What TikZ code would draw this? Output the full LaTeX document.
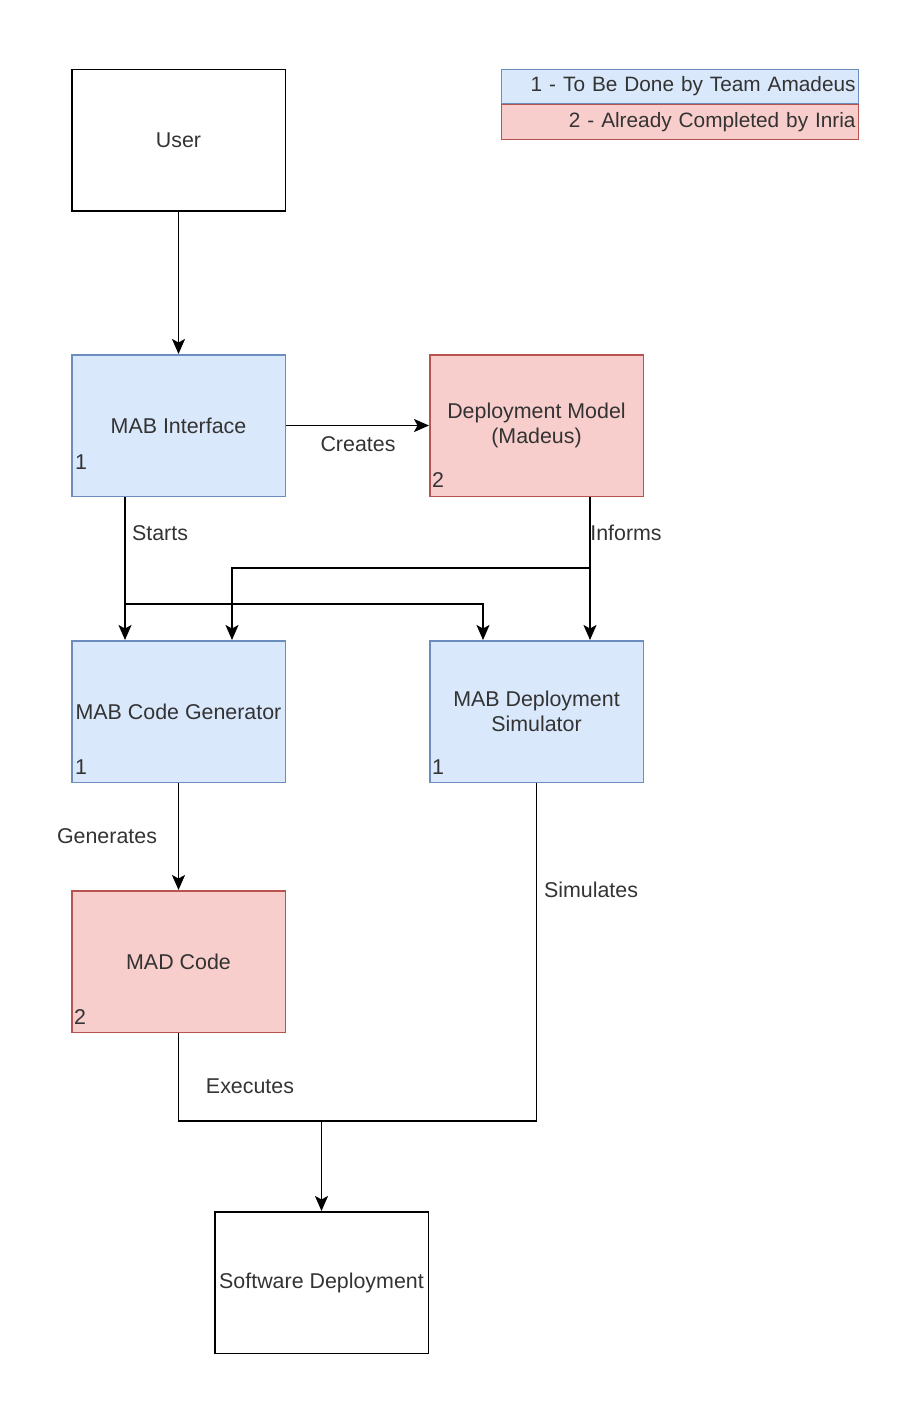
\documentclass[tikz,border=0pt]{standalone}
\usepackage{fontspec}
\setmainfont{Liberation Sans}
\usetikzlibrary{arrows.meta,calc}
\definecolor{bluefill}{HTML}{DAE8FC}
\definecolor{bluedraw}{HTML}{6C8EBF}
\definecolor{redfill}{HTML}{F8CECC}
\definecolor{reddraw}{HTML}{B85450}
\definecolor{txt}{HTML}{333333}
\begin{document}
\begin{tikzpicture}[x=1pt,y=-1pt,
  font=\fontsize{21.4}{25}\selectfont, text=txt,
  box/.style={draw=black, line width=1.5pt, minimum width=213.5pt, minimum height=141.5pt, inner sep=2pt, align=center, anchor=north west},
  bluebox/.style={box, fill=bluefill, draw=bluedraw},
  redbox/.style={box, fill=redfill, draw=reddraw},
  conn/.style={line width=1.8pt, draw=black},
  arr/.style={conn, -{Stealth[length=15pt,width=13pt,inset=3.5pt]}},
  lbl/.style={inner sep=0pt},
  num/.style={inner sep=0pt, anchor=west}
]
\useasboundingbox (0,0) rectangle (909,1420);
% boxes
\node[box] (user) at (71,69) {User};
\node[bluebox] (mabi) at (71,354) {MAB Interface};
\node[redbox] (dm) at (429,354) {Deployment Model\\(Madeus)};
\node[bluebox] (gen) at (71,640) {MAB Code Generator};
\node[bluebox] (sim) at (429,640) {MAB Deployment\\Simulator};
\node[redbox] (mad) at (71,890) {MAD Code};
\node[box] (sd) at (214,1211) {Software Deployment};
% legend
\node[bluebox, font=\fontsize{20.8}{24}\selectfont, minimum width=357pt, minimum height=34pt, align=right, text width=351pt, line width=1.2pt] (leg1) at (501,69) {1 - To Be Done by Team Amadeus};
\node[redbox, font=\fontsize{20.8}{24}\selectfont, minimum width=357pt, minimum height=35pt, align=right, text width=351pt, line width=1.2pt] (leg2) at (501,104) {2 - Already Completed by Inria};
% numbers
\node[num] (n1) at ($(mabi.south west)+(4,-35)$) {1};
\node[num] (n2) at ($(dm.south west)+(3,-17)$) {2};
\node[num] (n3) at ($(gen.south west)+(4,-16)$) {1};
\node[num] (n4) at ($(sim.south west)+(3,-16)$) {1};
\node[num] (n5) at ($(mad.south west)+(3,-16)$) {2};
% connector coordinates
\coordinate (sA) at (125,497);
\coordinate (sJ) at (125,604);
\coordinate (sK) at (483,604);
\coordinate (iA) at (590,497);
\coordinate (iJ) at (590,568);
\coordinate (iK) at (232,568);
\coordinate (lvl) at (0,1121);
\coordinate (eA) at (mad.south |- lvl);
\coordinate (eB) at (sim.south |- lvl);
\coordinate (eM) at (sd.north |- lvl);
% connectors
\draw[arr] (user.south) -- (mabi.north);
\draw[arr] (mabi.east) -- (dm.west);
\draw[arr] (sA) -- (sA |- gen.north);
\draw[arr] (sJ) -- (sK) -- (sK |- sim.north);
\draw[arr] (iA) -- (iA |- sim.north);
\draw[arr] (iJ) -- (iK) -- (iK |- gen.north);
\draw[arr] (gen.south) -- (mad.north);
\draw[conn] (mad.south) -- (eA) -- (eB) -- (sim.south);
\draw[arr] (eM) -- (sd.north);
% labels
\node[lbl] (l1) at (358,444) {Creates};
\node[lbl] (l2) at (160,533) {Starts};
\node[lbl] (l3) at (626,533) {Informs};
\node[lbl] (l4) at (107,836) {Generates};
\node[lbl] (l5) at (591,890) {Simulates};
\node[lbl] (l6) at (250,1086) {Executes};
\end{tikzpicture}
\end{document}
